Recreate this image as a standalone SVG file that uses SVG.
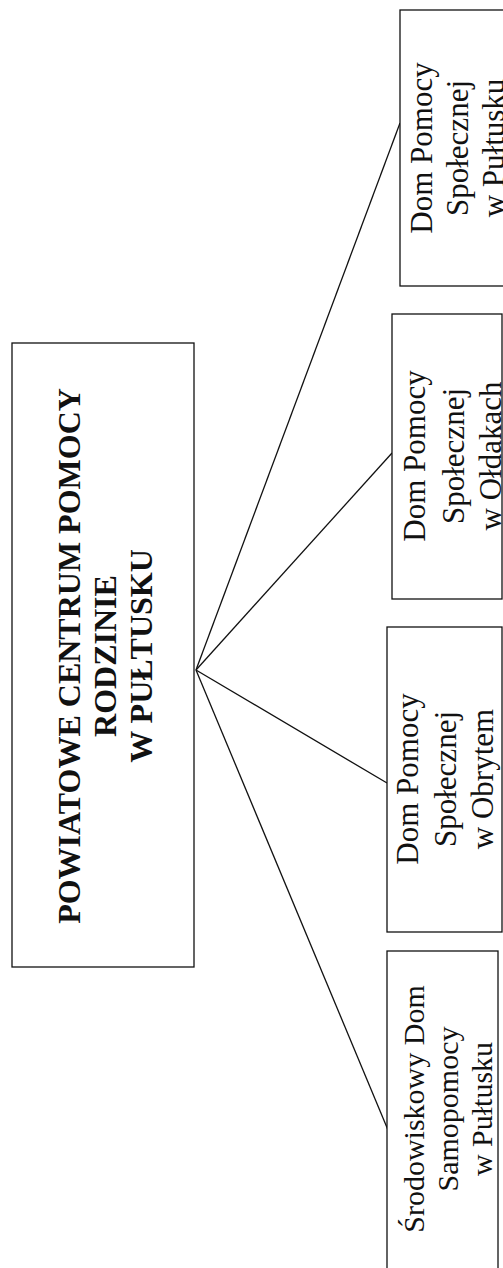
<svg xmlns="http://www.w3.org/2000/svg" width="503" height="1268" viewBox="0 0 503 1268">
<style>
.box{fill:#fff;stroke:#111;stroke-width:1.3}
.con{fill:none;stroke:#111;stroke-width:1.3}
.t{font-family:"Liberation Serif",serif;font-size:31px;fill:#111;text-anchor:middle}
.b{font-family:"Liberation Serif",serif;font-size:32px;font-weight:bold;fill:#111;text-anchor:middle}
</style>
<rect width="503" height="1268" fill="#fff"/>
<g id="connectors">
<line class="con" x1="196" y1="670" x2="400" y2="123"/>
<line class="con" x1="196" y1="670" x2="392" y2="453"/>
<line class="con" x1="196" y1="670" x2="387" y2="783"/>
<line class="con" x1="196" y1="670" x2="388" y2="1130"/>
</g>
<g id="main">
<rect class="box" x="12" y="343" width="182" height="624"/>
<g transform="translate(0,656) rotate(-90)">
<text class="b" x="0" y="80">POWIATOWE CENTRUM POMOCY</text>
<text class="b" x="0" y="116">RODZINIE</text>
<text class="b" x="0" y="152">W PUŁTUSKU</text>
</g>
</g>
<g id="dps-pultusk">
<rect class="box" x="400" y="10" width="120" height="276"/>
<g transform="translate(0,148) rotate(-90)">
<text class="t" x="0" y="432">Dom Pomocy</text>
<text class="t" x="0" y="468">Społecznej</text>
<text class="t" x="0" y="504">w Pułtusku</text>
</g>
</g>
<g id="dps-oldaki">
<rect class="box" x="392" y="314" width="110" height="285"/>
<g transform="translate(0,456) rotate(-90)">
<text class="t" x="0" y="425">Dom Pomocy</text>
<text class="t" x="0" y="464">Społecznej</text>
<text class="t" x="0" y="501">w Ołdakach</text>
</g>
</g>
<g id="dps-obryte">
<rect class="box" x="387" y="627" width="115" height="305"/>
<g transform="translate(0,779) rotate(-90)">
<text class="t" x="0" y="418">Dom Pomocy</text>
<text class="t" x="0" y="456">Społecznej</text>
<text class="t" x="0" y="493">w Obrytem</text>
</g>
</g>
<g id="sds-pultusk">
<rect class="box" x="387" y="951" width="111" height="330"/>
<g transform="translate(0,1109) rotate(-90)">
<text class="t" x="0" y="424" style="font-size:30px">Środowiskowy Dom</text>
<text class="t" x="0" y="458" style="font-size:30px">Samopomocy</text>
<text class="t" x="0" y="492" style="font-size:30px">w Pułtusku</text>
</g>
</g>
</svg>
